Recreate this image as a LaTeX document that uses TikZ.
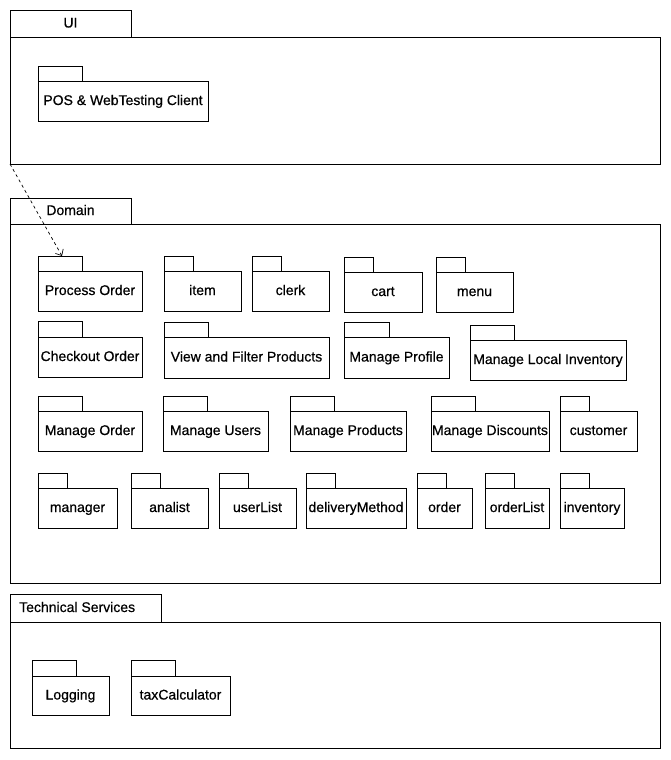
\documentclass[tikz,border=0pt]{standalone}
\usepackage{fontspec}
\setmainfont[FakeBold=0.5]{Liberation Sans}
\usetikzlibrary{arrows.meta}

\tikzset{
  outline/.style={draw=black, line width=0.9pt, fill=white, inner sep=0pt, outer sep=0pt},
  labelfont/.style={font=\fontsize{14pt}{16pt}\selectfont, text height=11pt, text depth=3pt},
  pkgbody/.style={outline, align=center, labelfont},
  pkgtab/.style={outline},
  framebody/.style={outline},
  framelabel/.style={labelfont, inner sep=0pt},
  depends/.style={draw=black, line width=0.7pt, dash pattern=on 3pt off 3pt,
    -{Straight Barb[length=5pt,width=9pt]}},
}

% UML package: body box with a small tab on its top-left edge
% #1 name, #2 left, #3 tab top, #4 body top, #5 right, #6 bottom, #7 tab right, #8 label
\newcommand\pkgnode[8]{%
  \pgfmathsetmacro\pkgwd{#5-#2}\pgfmathsetmacro\pkght{#6-#4}%
  \pgfmathsetmacro\pkgtabwd{#7-#2}\pgfmathsetmacro\pkgtabht{#4-#3}%
  \node[pkgbody, minimum width=\pkgwd pt, minimum height=\pkght pt, anchor=north west] (#1) at (#2,#4) {#8};
  \node[pkgtab, minimum width=\pkgtabwd pt, minimum height=\pkgtabht pt, anchor=south west] (#1-tab) at (#1.north west) {};
}

% Layer frame: large body with a tab for its title
% #1 name, #2 tab top, #3 body top, #4 bottom, #5 tab right
\newcommand\layerframe[5]{%
  \pgfmathsetmacro\pkgwd{660-10}\pgfmathsetmacro\pkght{#4-#3}%
  \pgfmathsetmacro\pkgtabwd{#5-10}\pgfmathsetmacro\pkgtabht{#3-#2}%
  \node[framebody, minimum width=\pkgwd pt, minimum height=\pkght pt, anchor=north west] (#1) at (10,#3) {};
  \node[pkgtab, minimum width=\pkgtabwd pt, minimum height=\pkgtabht pt, anchor=south west] (#1-tab) at (#1.north west) {};
}

\begin{document}
\begin{tikzpicture}[x=1pt, y=-1pt]
  \useasboundingbox (0,0) rectangle (671,760);

  % ---------- UI layer ----------
  \layerframe{ui}{10}{37}{164}{131}
  \node[framelabel] (ui-label) at (ui-tab.center) {UI};
  \pkgnode{pos}{38}{66}{81}{208}{121}{82}{POS \& WebTesting Client}

  % ---------- Domain layer ----------
  \layerframe{dom}{198}{224}{583}{131}
  \node[framelabel] (dom-label) at (dom-tab.center) {Domain};

  % row 1
  \pkgnode{procorder}{38}{256}{271}{142}{311}{82}{Process Order}
  \pkgnode{item}{164}{256}{271}{241}{311}{193}{item}
  \pkgnode{clerk}{252}{256}{271}{329}{311}{281}{clerk}
  \pkgnode{cart}{344}{257}{272}{422}{312}{373}{cart}
  \pkgnode{menu}{436}{257}{272}{513}{312}{465}{menu}

  % row 2
  \pkgnode{checkout}{38}{321}{337}{142}{377}{82}{Checkout Order}
  \pkgnode{viewfilter}{164}{322}{337}{329}{378}{208}{View and Filter Products}
  \pkgnode{profile}{344}{322}{337}{449}{378}{389}{Manage Profile}
  \pkgnode{localinv}{470}{325}{340}{626}{380}{514}{Manage Local Inventory}

  % row 3
  \pkgnode{mgorder}{38}{396}{411}{142}{451}{82}{Manage Order}
  \pkgnode{mgusers}{163}{396}{411}{268}{451}{207}{Manage Users}
  \pkgnode{mgproducts}{290}{396}{411}{406}{451}{334}{Manage Products}
  \pkgnode{mgdiscounts}{431}{396}{411}{549}{451}{475}{Manage Discounts}
  \pkgnode{customer}{560}{396}{411}{637}{451}{589}{customer}

  % row 4
  \pkgnode{manager}{38}{473}{488}{117}{528}{67}{manager}
  \pkgnode{analist}{131}{473}{488}{208}{528}{160}{analist}
  \pkgnode{userlist}{219}{473}{488}{296}{528}{248}{userList}
  \pkgnode{delivery}{306}{473}{488}{406}{528}{335}{deliveryMethod}
  \pkgnode{order}{417}{473}{488}{472}{528}{446}{order}
  \pkgnode{orderlist}{485}{473}{488}{549}{528}{514}{orderList}
  \pkgnode{inventory}{560}{473}{488}{624}{528}{589}{inventory}

  % ---------- Technical Services layer ----------
  \layerframe{tech}{594}{622}{748}{161}
  \node[framelabel, anchor=west] (tech-label) at ([xshift=9pt]tech-tab.west) {Technical Services};
  \pkgnode{logging}{32}{660}{676}{109}{715}{76}{Logging}
  \pkgnode{taxcalc}{131}{660}{676}{230}{715}{175}{taxCalculator}

  % ---------- dependency ----------
  \draw[depends] (ui.south west) -- ([xshift=2pt]procorder-tab.north);
\end{tikzpicture}
\end{document}
